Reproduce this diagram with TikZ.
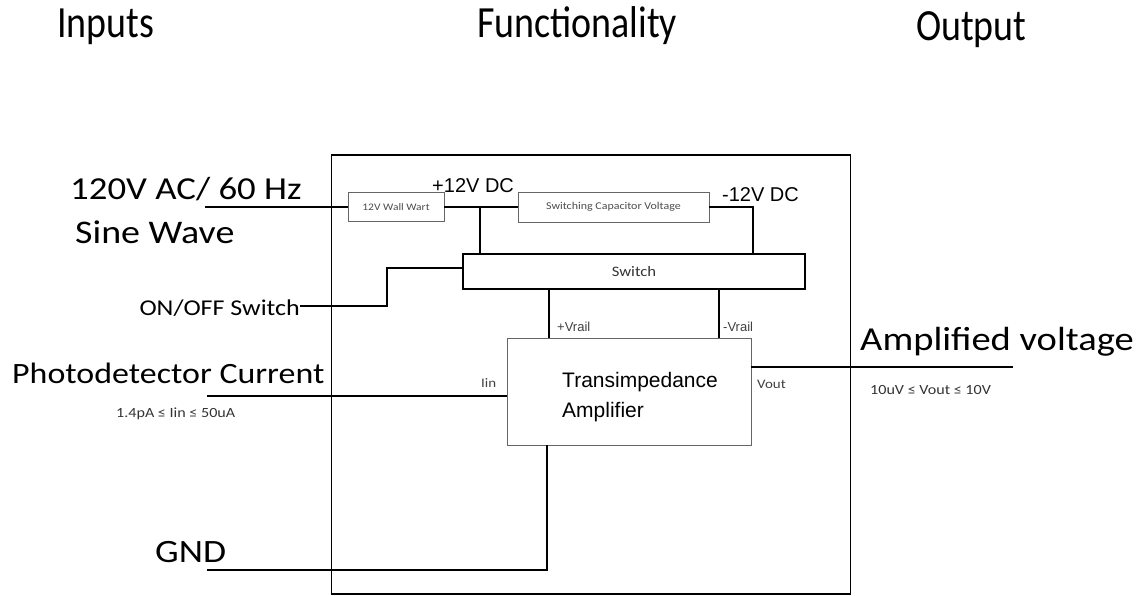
\documentclass[tikz,border=0pt]{standalone}
\usepackage{fontspec}
\setmainfont{Carlito}
\newfontfamily\arialf{Liberation Sans}
\newcommand\hstretch[1]{\scalebox{1.15}[1]{#1}}
\newcommand\hdstretch[1]{\scalebox{1.15}[1.35]{#1}}
\begin{document}
\begin{tikzpicture}[x=1pt,y=-1pt,
  wire/.style={line width=1.6pt,black},
  thinbox/.style={draw=black!60,line width=0.9pt,inner sep=0pt},
  thickbox/.style={draw=black,line width=1.8pt,inner sep=0pt},
  lbl/.style={inner sep=0pt,anchor=base west}]
\useasboundingbox (0,0) rectangle (1138,595);
% headers
\node[lbl,font=\fontsize{33}{35}\selectfont] (hin) at (57,37) {\hdstretch{Inputs}};
\node[lbl,font=\fontsize{33}{35}\selectfont] (hfun) at (477,37) {\hdstretch{Functionality}};
\node[lbl,font=\fontsize{33}{35}\selectfont] (hout) at (916,40) {\hdstretch{Output}};
% outer box
\node[draw,line width=1.6pt,minimum width=519,minimum height=439,inner sep=0pt] (outer) at (591,374.5) {};
% boxes
\node[thinbox,minimum width=96,minimum height=29,font=\fontsize{10}{11}\selectfont,text=black!70] (ww) at (396,207) {\hstretch{12V Wall Wart}};
\node[thinbox,minimum width=191,minimum height=30,font=\fontsize{10.4}{11}\selectfont,text=black!70] (scv) at (613.5,207) {\hstretch{Switching Capacitor Voltage}};
\node[thickbox,minimum width=342,minimum height=35,font=\fontsize{14.5}{16}\selectfont,text=black!80] (sw) at (634,271.5) {\hstretch{Switch}};
\node[thinbox,minimum width=244,minimum height=107] (tia) at (629,391.5) {};
\node[lbl,font=\arialf\fontsize{21}{30}\selectfont,align=left,anchor=base west] (tiat) at (562,417) {Transimpedance\\Amplifier};
% labels
\node[lbl,font=\fontsize{32}{34}\selectfont] (l120) at (70,199) {\hstretch{120V AC/ 60 Hz}};
\node[lbl,font=\fontsize{33}{35}\selectfont] (lsine) at (75,243) {\hstretch{Sine Wave}};
\node[lbl,font=\fontsize{22.6}{24}\selectfont,anchor=base east] (lonoff) at (300,315) {\hstretch{ON/OFF Switch}};
\node[lbl,font=\fontsize{29.5}{31}\selectfont] (lphoto) at (12,383) {\hstretch{Photodetector Current}};
\node[lbl,font=\fontsize{14}{15}\selectfont,text=black!80] (liin) at (116,417) {\hstretch{1.4pA ≤ Iin ≤ 50uA}};
\node[lbl,font=\fontsize{32.6}{34}\selectfont] (lgnd) at (155,562) {\hstretch{GND}};
\node[lbl,font=\fontsize{33.5}{35}\selectfont] (lamp) at (860,350) {\hstretch{Amplified voltage}};
\node[lbl,font=\fontsize{14}{15}\selectfont,text=black!80] (lvout) at (870,394) {\hstretch{10uV ≤ Vout ≤ 10V}};
\node[lbl,font=\arialf\fontsize{20}{22}\selectfont] (lp12) at (432,192) {+12V DC};
\node[lbl,font=\arialf\fontsize{20}{22}\selectfont] (lm12) at (722,201) {-12V DC};
\node[lbl,font=\arialf\fontsize{13}{15}\selectfont,text=black!75] (lpv) at (557,331) {+Vrail};
\node[lbl,font=\arialf\fontsize{13}{15}\selectfont,text=black!75] (lmv) at (723,331) {-Vrail};
\node[lbl,font=\fontsize{13}{15}\selectfont,text=black!75] (liinl) at (481,387) {\hstretch{Iin}};
\node[lbl,font=\fontsize{13}{15}\selectfont,text=black!75] (lvoutl) at (757,388) {\hstretch{Vout}};
% coordinates
\coordinate (in120) at (205,207);
\coordinate (j1) at (480,207);
\coordinate (n12) at (753,254);
\coordinate (onA) at (387,306);
\coordinate (onB) at (387,268);
\coordinate (pv) at (549,289);
\coordinate (mv) at (719,289);
\coordinate (iinS) at (207,396);
\coordinate (voutE) at (1013,367);
\coordinate (gndS) at (207,570);
\coordinate (gndT) at (547,445);
% wires
\draw[wire] (in120) -- (ww.west);
\draw[wire] (ww.east) -- (scv.west);
\draw[wire] (j1) -- (j1 |- sw.north);
\draw[wire] (scv.east) -| (n12);
\draw[wire] (lonoff.east |- onA) -- (onA) -- (onB) -- (onB -| sw.west);
\draw[wire] (pv) -- (pv |- tia.north);
\draw[wire] (mv) -- (mv |- tia.north);
\draw[wire] (iinS) -- (iinS -| tia.west);
\draw[wire] (voutE -| tia.east) -- (voutE);
\draw[wire] (gndS) -| (gndT);
\end{tikzpicture}
\end{document}
